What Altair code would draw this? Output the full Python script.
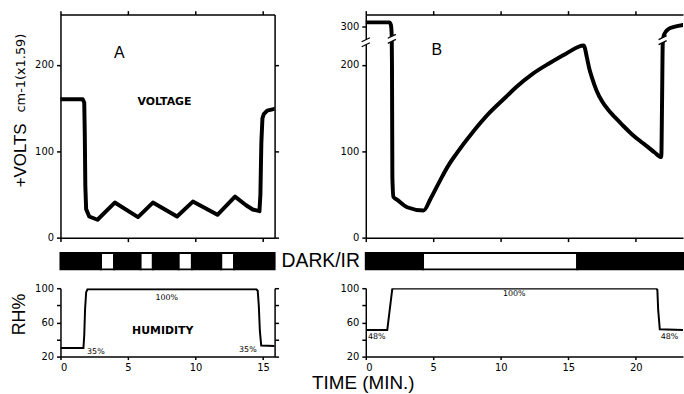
import altair as alt
import pandas as pd

# ---------------- data ----------------
# Panel A voltage (time in min, volts)
tA = [0, 1.65, 1.76, 1.8, 1.84, 1.9, 2.13, 2.74, 4.02, 5.74, 6.84, 8.63, 9.8, 11.62, 12.92,
      13.74, 14.23, 14.73, 14.8, 14.87, 14.95, 15.05, 15.3, 15.85]
vA = [160, 160, 156, 120, 60, 33, 24.5, 20.7, 40.6, 23.8, 40.6, 24.5, 41.7, 26.4, 47.5,
      37.5, 32.6, 30.6, 50, 110, 138, 143, 147, 149]

# Panel B voltage (real values; > 260 are drawn above the axis break)
tB = [0, 1.75, 1.86, 1.92, 1.94, 1.97, 2.05, 2.33, 3.06, 4.28, 4.8, 5.5, 6.1, 6.73, 7.95,
      9.17, 10.4, 11.13, 12.36, 13.57, 14.8, 16.14, 16.39, 16.55, 16.76, 17.1, 17.49, 18.0,
      18.47, 19.0, 19.69, 20.3, 20.91, 21.4, 21.89, 21.95, 22.0, 22.1, 22.4, 22.9, 23.5]
vB = [305, 305, 302, 290, 200, 70, 47, 43.7, 35.2, 31.4, 45, 66, 83, 97.5, 122.5,
      144.5, 163, 174, 189.5, 201.5, 212.5, 222.2, 207.7, 196, 184.8, 170, 158, 147,
      139, 130.5, 120, 112, 104.7, 98.5, 93.2, 160, 225, 291, 297, 300, 302]

# Dark / IR bars
barA_start = [0, 3.0, 3.97, 5.93, 6.84, 8.75, 9.73, 11.9, 12.85]
barA_end = [3.0, 3.97, 5.93, 6.84, 8.75, 9.73, 11.9, 12.85, 15.85]
barA_state = ["dark", "ir", "dark", "ir", "dark", "ir", "dark", "ir", "dark"]
barB_start = [0, 4.24, 15.66]
barB_end = [4.24, 15.66, 23.5]
barB_state = ["dark", "ir", "dark"]

# Humidity
tHA = [0, 1.7, 1.76, 1.82, 1.9, 2.0, 14.5, 14.6, 14.68, 14.76, 14.86, 15.85]
vHA = [30, 30, 45, 75, 95, 98.8, 98.8, 97, 80, 50, 33, 32.5]
tHB = [0, 1.59, 1.96, 2.1, 21.5, 21.6, 21.66, 21.78, 23.5]
vHB = [51, 51, 99, 99.5, 100, 98, 75, 52, 51]

# Annotations
txtVA_t = [4.35, 7.7]
txtVA_v = [213, 157]
txtVA_s = ["A", "VOLTAGE"]
txtVB_t = [5.26]
txtVB_v = [217]
txtVB_s = ["B"]
pctA_t = [7.87, 2.62, 13.87]
pctA_v = [89, 25.5, 27.5]
pctA_s = ["100%", "35%", "35%"]
pctB_t = [11.0, 0.81, 22.5]
pctB_v = [93, 42.6, 42.6]
pctB_s = ["100%", "48%", "48%"]
humLabel_t = [7.57]
humLabel_v = [50.2]
breaks_t = [0.0, 1.93, 21.99]
breaks_v = [226, 230, 228.5]

BREAK_OFFSET = 56   # real value - drawn value above the break

# ---------------- helpers ----------------
LF = "DejaVu Sans"
TF = "Liberation Sans"


def ax(orient, values, labels=True, tick=4, labelExpr=None):
    kw = dict(orient=orient, values=values, labels=labels, ticks=True, tickSize=tick,
              domain=True, grid=False, title=None, domainColor="black", domainWidth=1.5,
              tickColor="black", tickWidth=1.5, labelFont=LF, labelFontSize=10,
              labelColor="black", labelPadding=3)
    if labelExpr is not None:
        kw["labelExpr"] = labelExpr
    return alt.Axis(**kw)


xA = alt.Scale(domain=[0, 15.85], nice=False, zero=False)
xB = alt.Scale(domain=[0, 23.5], nice=False, zero=False)
yV = alt.Scale(domain=[0, 258], nice=False, zero=False)
yH = alt.Scale(domain=[20, 100], nice=False, zero=False)

WA, WB, HV, HB, HH = 216, 320, 225, 21, 69

# ---------------- voltage A ----------------
dfA = pd.DataFrame({"t": tA, "v": vA})
lineA = alt.Chart(dfA).mark_line(color="black", strokeWidth=4, strokeJoin="round",
                                 strokeCap="round", clip=True).encode(
    x=alt.X("t:Q", scale=xA, axis=ax("bottom", [0, 5, 10, 15], labels=False)),
    y=alt.Y("v:Q", scale=yV, axis=ax("left", [0, 100, 200])))
frameA = alt.Chart(dfA).mark_line(opacity=0).encode(
    x=alt.X("t:Q", scale=xA, axis=ax("top", [0, 5, 10, 15], labels=False)),
    y=alt.Y("v:Q", scale=yV, axis=ax("right", [0, 100, 200], labels=False)))
dfTA = pd.DataFrame({"t": txtVA_t, "v": txtVA_v, "s": txtVA_s})
txtA1 = alt.Chart(dfTA.iloc[[0]]).mark_text(font=TF, fontSize=16, color="black").encode(
    x=alt.X("t:Q", scale=xA, axis=None), y=alt.Y("v:Q", scale=yV, axis=None), text="s:N")
txtA2 = alt.Chart(dfTA.iloc[[1]]).mark_text(font=LF, fontSize=11, fontWeight="bold",
                                            color="black").encode(
    x=alt.X("t:Q", scale=xA, axis=None), y=alt.Y("v:Q", scale=yV, axis=None), text="s:N")
ytitle1 = alt.Chart(pd.DataFrame({"s": ["+VOLTS"]})).mark_text(
    font=TF, fontSize=17, angle=270, align="center", baseline="alphabetic", color="black").encode(
    x=alt.value(-35), y=alt.value(142), text="s:N")
ytitle2 = alt.Chart(pd.DataFrame({"s": ["cm-1(x1.59)"]})).mark_text(
    font=LF, fontSize=13, angle=270, align="center", baseline="alphabetic", color="black").encode(
    x=alt.value(-36), y=alt.value(59), text="s:N")
anchor = alt.Chart(pd.DataFrame({"s": [0]})).mark_rule(color="white", strokeWidth=1).encode(
    x=alt.value(-60.5), y=alt.value(-12.5), y2=alt.value(-11))
voltA = alt.layer(lineA, frameA, txtA1, txtA2, ytitle1, ytitle2, anchor).resolve_axis(
    x="independent", y="independent").properties(width=WA, height=HV)

# ---------------- voltage B ----------------
dfB = pd.DataFrame({"t": tB, "v": vB})
calc = f"datum.v > 260 ? datum.v - {BREAK_OFFSET} : datum.v"
lineB = alt.Chart(dfB).transform_calculate(d=calc).mark_line(
    color="black", strokeWidth=4, strokeJoin="round", strokeCap="round",
    interpolate="monotone", clip=True).encode(
    x=alt.X("t:Q", scale=xB, axis=ax("bottom", [0, 5, 10, 15, 20], labels=False)),
    y=alt.Y("d:Q", scale=yV, axis=ax("left", [0, 100, 200, 300 - BREAK_OFFSET],
                                     labelExpr="datum.value > 240 ? '300' : datum.label")))
frameB = alt.Chart(dfB).transform_calculate(d=calc).mark_line(opacity=0).encode(
    x=alt.X("t:Q", scale=xB, axis=ax("top", [0, 5, 10, 15, 20], labels=False)),
    y=alt.Y("d:Q", scale=yV, axis=None))
dfBr = pd.DataFrame({"t": breaks_t, "v": breaks_v})
brk_white = alt.Chart(dfBr).transform_calculate(
    t1="datum.t - 0.3", t2="datum.t + 0.3", v1="datum.v - 2.3", v2="datum.v + 2.3").mark_rule(
    color="white", strokeWidth=5).encode(
    x=alt.X("t1:Q", scale=xB, axis=None), x2="t2:Q",
    y=alt.Y("v1:Q", scale=yV, axis=None), y2="v2:Q")
brk_a = alt.Chart(dfBr).transform_calculate(
    t1="datum.t - 0.3", t2="datum.t + 0.3", v1="datum.v - 5.2", v2="datum.v - 0.6").mark_rule(
    color="black", strokeWidth=1.3).encode(
    x=alt.X("t1:Q", scale=xB, axis=None), x2="t2:Q",
    y=alt.Y("v1:Q", scale=yV, axis=None), y2="v2:Q")
brk_b = alt.Chart(dfBr).transform_calculate(
    t1="datum.t - 0.3", t2="datum.t + 0.3", v1="datum.v + 0.6", v2="datum.v + 5.2").mark_rule(
    color="black", strokeWidth=1.3).encode(
    x=alt.X("t1:Q", scale=xB, axis=None), x2="t2:Q",
    y=alt.Y("v1:Q", scale=yV, axis=None), y2="v2:Q")
txtB = alt.Chart(pd.DataFrame({"t": txtVB_t, "v": txtVB_v, "s": txtVB_s})).mark_text(
    font=TF, fontSize=16, color="black").encode(
    x=alt.X("t:Q", scale=xB, axis=None), y=alt.Y("v:Q", scale=yV, axis=None), text="s:N")
voltB = alt.layer(lineB, frameB, brk_white, brk_a, brk_b, txtB).resolve_axis(
    x="independent", y="independent").properties(width=WB, height=HV)

# ---------------- dark / IR bars ----------------
cscale = alt.Scale(domain=["dark", "ir"], range=["black", "white"])
dfBarA = pd.DataFrame({"s": barA_start, "e": barA_end, "state": barA_state})
barA = alt.Chart(dfBarA).mark_rect(stroke="black", strokeWidth=2).encode(
    x=alt.X("s:Q", scale=xA, axis=None), x2="e:Q",
    y=alt.value(0.5), y2=alt.value(17),
    color=alt.Color("state:N", scale=cscale, legend=None))
darkTxt = alt.Chart(pd.DataFrame({"s": ["DARK/IR"]})).mark_text(
    font=TF, fontSize=19.5, align="left", baseline="middle", color="black").encode(
    x=alt.value(223), y=alt.value(9), text="s:N")
barAc = alt.layer(barA, darkTxt).properties(width=WA, height=HB)

dfBarB = pd.DataFrame({"s": barB_start, "e": barB_end, "state": barB_state})
barB = alt.Chart(dfBarB).mark_rect(stroke="black", strokeWidth=2).encode(
    x=alt.X("s:Q", scale=xB, axis=None), x2="e:Q",
    y=alt.value(0.5), y2=alt.value(17),
    color=alt.Color("state:N", scale=cscale, legend=None)).properties(width=WB, height=HB)

# ---------------- humidity A ----------------
hexpr = "datum.value % 40 == 20 ? datum.label : ''"
dfHA = pd.DataFrame({"t": tHA, "v": vHA})
humA_line = alt.Chart(dfHA).mark_line(color="black", strokeWidth=2, clip=True).encode(
    x=alt.X("t:Q", scale=xA, axis=ax("bottom", [0, 5, 10, 15], tick=3)),
    y=alt.Y("v:Q", scale=yH, axis=ax("left", [20, 40, 60, 80, 100], labelExpr=hexpr)))
humA_frame = alt.Chart(dfHA).mark_line(opacity=0).encode(
    x=alt.X("t:Q", scale=xA, axis=None),
    y=alt.Y("v:Q", scale=yH, axis=ax("right", [20, 40, 60, 80, 100], labels=False)))
humA_pct = alt.Chart(pd.DataFrame({"t": pctA_t, "v": pctA_v, "s": pctA_s})).mark_text(
    font=LF, fontSize=8, color="black").encode(
    x=alt.X("t:Q", scale=xA, axis=None), y=alt.Y("v:Q", scale=yH, axis=None), text="s:N")
humA_lbl = alt.Chart(pd.DataFrame({"t": humLabel_t, "v": humLabel_v, "s": ["HUMIDITY"]})).mark_text(
    font=LF, fontSize=11, fontWeight="bold", color="black").encode(
    x=alt.X("t:Q", scale=xA, axis=None), y=alt.Y("v:Q", scale=yH, axis=None), text="s:N")
rh = alt.Chart(pd.DataFrame({"s": ["RH%"]})).mark_text(
    font=TF, fontSize=18, angle=270, align="center", baseline="alphabetic", color="black").encode(
    x=alt.value(-36), y=alt.value(26.5), text="s:N")
humA = alt.layer(humA_line, humA_frame, humA_pct, humA_lbl, rh).resolve_axis(
    x="independent", y="independent").properties(width=WA, height=HH)

# ---------------- humidity B ----------------
dfHB = pd.DataFrame({"t": tHB, "v": vHB})
humB_line = alt.Chart(dfHB).mark_line(color="black", strokeWidth=2, clip=True).encode(
    x=alt.X("t:Q", scale=xB, axis=ax("bottom", [0, 5, 10, 15, 20], tick=3)),
    y=alt.Y("v:Q", scale=yH, axis=ax("left", [20, 40, 60, 80, 100], labelExpr=hexpr)))
humB_pct = alt.Chart(pd.DataFrame({"t": pctB_t, "v": pctB_v, "s": pctB_s})).mark_text(
    font=LF, fontSize=8, color="black").encode(
    x=alt.X("t:Q", scale=xB, axis=None), y=alt.Y("v:Q", scale=yH, axis=None), text="s:N")
timeTxt = alt.Chart(pd.DataFrame({"s": ["TIME (MIN.)"]})).mark_text(
    font=TF, fontSize=19, align="center", baseline="middle", color="black").encode(
    x=alt.value(-2.5), y=alt.value(96), text="s:N")
humB = alt.layer(humB_line, humB_pct, timeTxt).resolve_axis(
    x="independent", y="independent").properties(width=WB, height=HH)

chart = alt.concat(voltA, voltB, barAc, barB, humA, humB, columns=2,
                   spacing={"row": 15, "column": 92}, bounds="flush").properties(
    padding={"left": 0, "top": 0, "right": 0, "bottom": 0},
    background="white").configure_view(stroke=None)

chart.save("out.html", embed_options={"renderer": "svg", "actions": False})
